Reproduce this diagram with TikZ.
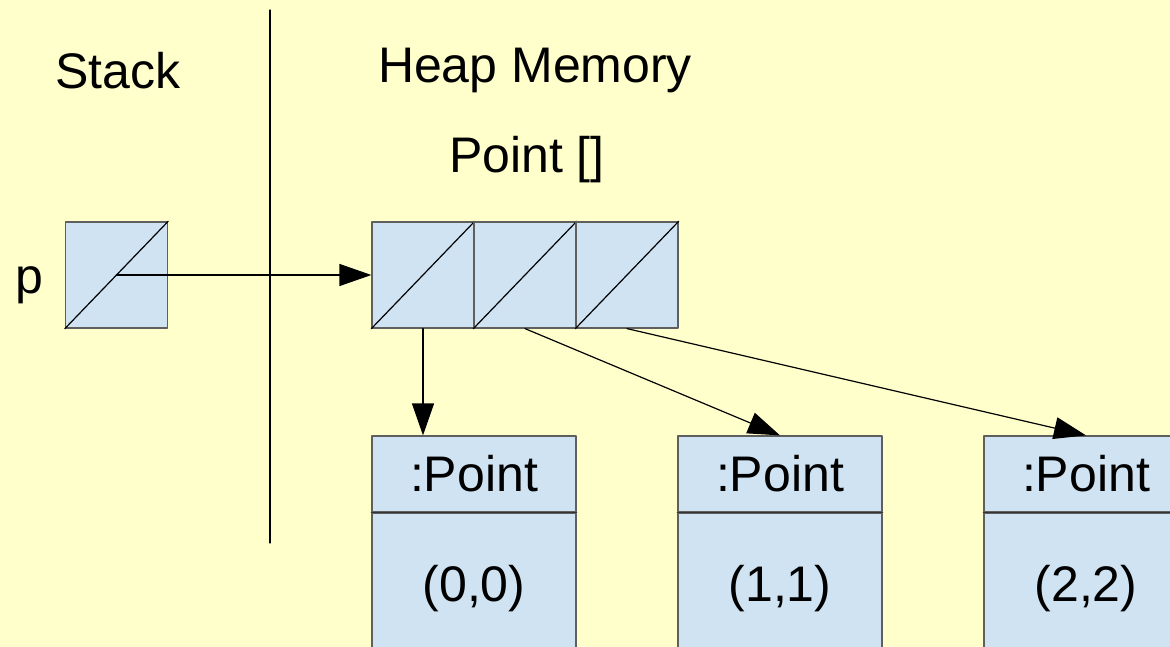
\documentclass[tikz,border=0pt]{standalone}
\usepackage{fontspec}
\setmainfont{Liberation Sans}
\usetikzlibrary{arrows.meta,positioning}
\definecolor{bgyellow}{RGB}{255,255,204}
\definecolor{cellblue}{RGB}{207,227,242}
\definecolor{cellline}{RGB}{95,95,95}
\tikzset{
	bigtext/.style={font=\fontsize{50}{60}\selectfont},
	cell/.style={draw=cellline, fill=cellblue, line width=1.2pt, inner sep=0pt, minimum width=102pt, minimum height=106pt},
	objhead/.style={cell, bigtext, minimum width=204pt, minimum height=76pt},
	objbody/.style={cell, bigtext, minimum width=204pt, minimum height=150pt},
	ptr/.style={line width=1.2pt, -{Triangle[length=32pt,width=22pt]}}
}
\begin{document}
\begin{tikzpicture}[x=1pt, y=-1pt, line cap=round, line join=round]
	% Nền vàng
	\fill[bgyellow] (0,0) rectangle (1170,647);
	\useasboundingbox (0,0) rectangle (1170,647);
	% Đường chia Stack / Heap
	\coordinate (divtop) at (270,10);
	\coordinate (divbot) at (270,543);
	\draw[line width=1.3pt] (divtop) -- (divbot);
	% Tiêu đề
	\node[bigtext, anchor=base] (stacktitle) at (118,89) {Stack};
	\node[bigtext, anchor=base] (heaptitle) at (535,83) {Heap Memory};
	\node[bigtext, anchor=base] (arrtitle) at (527,173) {Point []};
	% Biến p trên stack
	\node[cell] (pvar) at (116.5,275) {};
	\draw[line width=1.2pt] (pvar.south west) -- (pvar.north east);
	\node[bigtext, anchor=base] (plabel) at (29,293) {p};
	% Mảng Point[] trên heap
	\foreach \i in {1,2,3} {
		\node[cell] (cell\i) at ({423+(\i-1)*102},275) {};
		\draw[line width=1.2pt] (cell\i.south west) -- (cell\i.north east);
	}
	% Các đối tượng :Point
	\foreach \i/\v in {1/{(0,0)}, 2/{(1,1)}, 3/{(2,2)}} {
		\node[objhead] (hd\i) at ({474+(\i-1)*306},474) {:Point};
		\node[objbody, below=0pt of hd\i] (bd\i) {\v};
		\draw[line width=1.4pt, black!80] (hd\i.south west) -- (hd\i.south east);
	}
	% Con trỏ
	\draw[ptr] (pvar.center) -- (cell1.west);
	\draw[ptr] (cell1.south) -- (cell1.south |- hd1.north);
	\draw[ptr] (cell2.south) -- (hd2.north);
	\draw[ptr] (cell3.south) -- (hd3.north);
\end{tikzpicture}
\end{document}
